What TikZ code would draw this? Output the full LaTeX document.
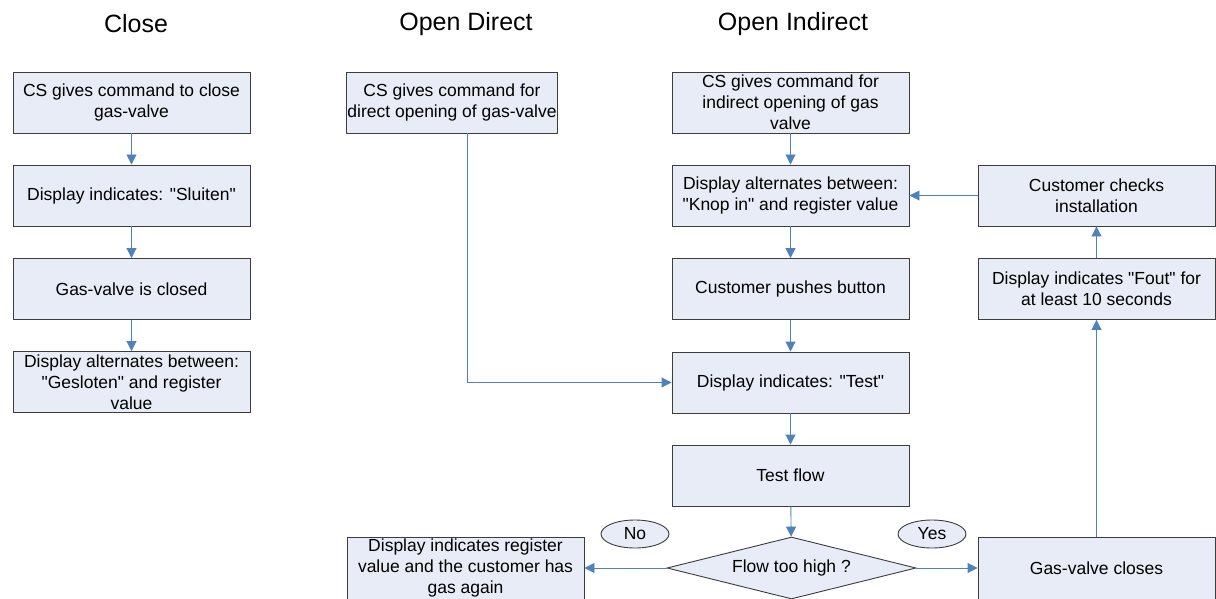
\documentclass[tikz,border=0pt]{standalone}
\usepackage{fontspec}
\setmainfont{Liberation Sans}[Ligatures=TeXOff]
\usepackage{xcolor}
\usepackage{tikz}
\usetikzlibrary{shapes.geometric, arrows.meta, positioning}
\definecolor{boxfill}{RGB}{231,236,246}
\definecolor{boxline}{RGB}{60,60,60}
\definecolor{flowblue}{RGB}{79,129,189}

\begin{document}
\begin{tikzpicture}[x=1pt, y=1pt,
        stepbox/.style={
                rectangle,
                draw=boxline,
                fill=boxfill,
                line width=0.9pt,
                minimum width=237pt,
                minimum height=61pt,
                inner sep=1pt,
                align=center,
                font=\fontsize{17.5}{21}\selectfont,
        },
        decision/.style={
                diamond,
                aspect=4,
                draw=boxline,
                fill=boxfill,
                line width=0.9pt,
                minimum width=249pt,
                minimum height=62pt,
                inner sep=0pt,
                font=\fontsize{17.5}{21}\selectfont,
        },
        answer/.style={
                ellipse,
                draw=boxline,
                fill=boxfill,
                line width=0.9pt,
                minimum width=68pt,
                minimum height=28pt,
                inner sep=0pt,
                font=\fontsize{17.5}{21}\selectfont,
        },
        heading/.style={font=\fontsize{25}{30}\selectfont},
        flow/.style={draw=flowblue, line width=0.9pt, -{Triangle[length=10pt, width=10pt]}},
    ]
            \useasboundingbox (0, 0) rectangle (1216, -599);
            % column titles
            \node[heading] (tclose) at (136, -24) {Close};
            \node[heading] (tdirect) at (466, -24) {Open Direct};
            \node[heading] (tindirect) at (793, -24) {Open Indirect};
            % close
            \node[stepbox] (closecmd) at (131.5, -102.5) {CS gives command to close\\gas-valve};
            \node[stepbox] (sluiten) at (131.5, -195.5) {Display indicates: "Sluiten"};
            \node[stepbox] (closed) at (131.5, -289) {Gas-valve is closed};
            \node[stepbox] (gesloten) at (131.5, -382) {Display alternates between:\\"Gesloten" and register\\value};
            % open direct
            \node[stepbox, minimum width=210pt] (directcmd) at (452, -102.5) {CS gives command for\\direct opening of gas-valve};
            % open indirect
            \node[stepbox] (indirectcmd) at (790.5, -102.5) {CS gives command for\\indirect opening of gas\\valve};
            \node[stepbox] (knopin) at (790.5, -195.5) {Display alternates between:\\"Knop in" and register value};
            \node[stepbox] (pushes) at (790.5, -289) {Customer pushes button};
            \node[stepbox] (test) at (790.5, -382.5) {Display indicates: "Test"};
            \node[stepbox] (testflow) at (790.5, -475.5) {Test flow};
            \node[decision] (toohigh) at (791.5, -568) {Flow too high ?};
            \node[stepbox, minimum height=62pt] (hasgas) at (465.5, -568) {Display indicates register\\value and the customer has\\gas again};
            \node[stepbox, minimum height=62pt] (closes) at (1096.5, -568) {Gas-valve closes};
            \node[stepbox] (fout) at (1096.5, -289) {Display indicates "Fout" for\\at least 10 seconds};
            \node[stepbox] (checks) at (1096.5, -195.5) {Customer checks\\installation};
            \node[answer] (no) at (635, -534) {No};
            \node[answer] (yes) at (932, -534) {Yes};
            % connectors
            \draw[flow] (closecmd) -- (sluiten);
            \draw[flow] (sluiten) -- (closed);
            \draw[flow] (closed) -- (gesloten);
            \draw[flow] (indirectcmd) -- (knopin);
            \draw[flow] (knopin) -- (pushes);
            \draw[flow] (pushes) -- (test);
            \draw[flow] ([xshift=15pt]directcmd.south) |- (test.west);
            \draw[flow] (test) -- (testflow);
            \draw[flow] (testflow) -- (toohigh);
            \draw[flow] (toohigh) -- (hasgas);
            \draw[flow] (toohigh) -- (closes);
            \draw[flow] (closes) -- (fout);
            \draw[flow] (fout) -- (checks);
            \draw[flow] (checks) -- (knopin);
        \end{tikzpicture}
\end{document}
